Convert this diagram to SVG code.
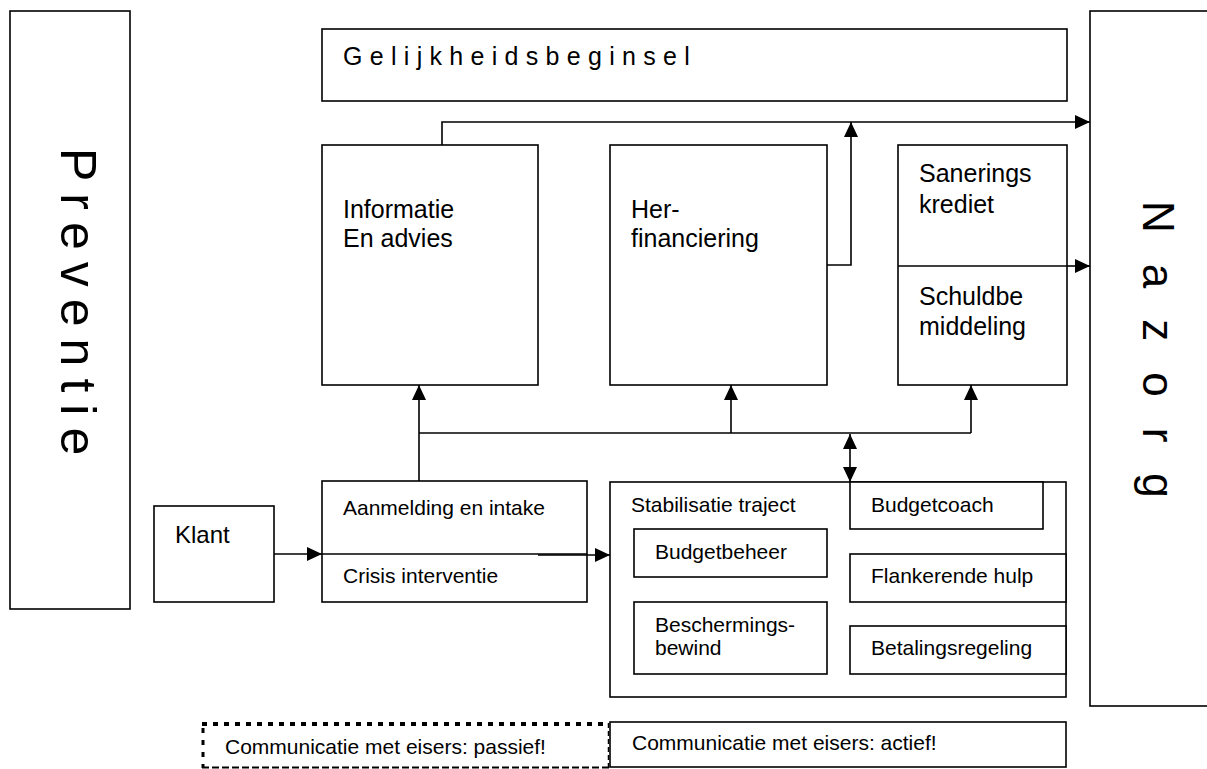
<svg xmlns="http://www.w3.org/2000/svg" width="1207" height="769" viewBox="0 0 1207 769">
<style>
  .box{fill:#fff;stroke:#000;stroke-width:1.6}
  .ln{fill:none;stroke:#000;stroke-width:1.6}
  text{font-family:"Liberation Sans",Arial,sans-serif;fill:#000}
  .big{font-size:25px}
  .sm{font-size:21px}
</style>
<defs>
  <marker id="ah" markerWidth="15" markerHeight="14" refX="15" refY="7" orient="auto-start-reverse" markerUnits="userSpaceOnUse">
    <path d="M0,0 L15,7 L0,14 Z" fill="#000"/>
  </marker>
</defs>
<rect width="1207" height="769" fill="#fff"/>

<g id="preventie">
  <rect class="box" x="10" y="11" width="120" height="598"/>
  <text transform="translate(61,148) rotate(90)" font-size="50" letter-spacing="12">Preventie</text>
</g>
<g id="gelijkheidsbeginsel">
  <rect class="box" x="322" y="29" width="745" height="72"/>
  <text x="343" y="65" font-size="25" letter-spacing="7.3">Gelijkheidsbeginsel</text>
</g>
<g id="nazorg">
  <rect class="box" x="1090" y="11" width="125" height="695"/>
  <text transform="translate(1143,201) rotate(90)" font-size="44" letter-spacing="31">Nazorg</text>
</g>
<g id="informatie">
  <rect class="box" x="322" y="145" width="216" height="240"/>
  <text class="big" x="343" y="218">Informatie</text>
  <text class="big" x="343" y="247">En advies</text>
</g>
<g id="herfinanciering">
  <rect class="box" x="610" y="145" width="217" height="240"/>
  <text class="big" x="631" y="218">Her-</text>
  <text class="big" x="631" y="247">financiering</text>
</g>
<g id="sanering">
  <rect class="box" x="898" y="145" width="169" height="240"/>
  <line class="ln" x1="898" y1="266" x2="1067" y2="266"/>
  <text class="big" x="919" y="182">Sanerings</text>
  <text class="big" x="919" y="213">krediet</text>
  <text class="big" x="919" y="305">Schuldbe</text>
  <text class="big" x="919" y="335">middeling</text>
</g>
<g id="klant">
  <rect class="box" x="154" y="506" width="120" height="96"/>
  <text x="175" y="543" font-size="24">Klant</text>
</g>
<g id="aanmelding">
  <rect class="box" x="322" y="481" width="265" height="121"/>
  <line class="ln" x1="322" y1="554" x2="587" y2="554"/>
  <text class="sm" x="343" y="515">Aanmelding en intake</text>
  <text class="sm" x="343" y="583">Crisis interventie</text>
</g>
<g id="stabilisatie">
  <rect class="box" x="610" y="482" width="456" height="215"/>
  <text class="sm" x="631" y="512">Stabilisatie traject</text>
</g>
<g id="budgetcoach">
  <rect class="box" x="850" y="482" width="193" height="47"/>
  <text class="sm" x="871" y="512">Budgetcoach</text>
</g>
<g id="budgetbeheer">
  <rect class="box" x="634" y="529" width="193" height="48"/>
  <text class="sm" x="655" y="559">Budgetbeheer</text>
</g>
<g id="flankerende">
  <rect class="box" x="850" y="554" width="216" height="48"/>
  <text class="sm" x="871" y="583">Flankerende hulp</text>
</g>
<g id="beschermingsbewind">
  <rect class="box" x="634" y="602" width="193" height="72"/>
  <text class="sm" x="655" y="632">Beschermings-</text>
  <text class="sm" x="655" y="655">bewind</text>
</g>
<g id="betalingsregeling">
  <rect class="box" x="850" y="626" width="216" height="48"/>
  <text class="sm" x="871" y="655">Betalingsregeling</text>
</g>
<g id="communicatie-passief">
  <rect x="202" y="723" width="407" height="45" fill="#fff"/>
  <line x1="202" y1="724" x2="609" y2="724" stroke="#000" stroke-width="4" stroke-dasharray="5 6"/>
  <line x1="203" y1="728" x2="203" y2="768" stroke="#000" stroke-width="3" stroke-dasharray="5 7"/>
  <line x1="202" y1="767.5" x2="609" y2="767.5" stroke="#000" stroke-width="2" stroke-dasharray="7 3"/>
  <line x1="608.5" y1="723" x2="608.5" y2="768" stroke="#000" stroke-width="1.5" stroke-dasharray="5 3"/>
  <text class="sm" x="225" y="754">Communicatie met eisers: passief!</text>
</g>
<g id="communicatie-actief">
  <rect class="box" x="610" y="722" width="456" height="45"/>
  <text class="sm" x="632" y="750">Communicatie met eisers: actief!</text>
</g>

<g id="connectors">
  <path class="ln" d="M442,145 V122 H1090" marker-end="url(#ah)"/>
  <path class="ln" d="M827,265 H851 V122" marker-end="url(#ah)"/>
  <path class="ln" d="M1067,266 H1090" marker-end="url(#ah)"/>
  <path class="ln" d="M419,433 H971"/>
  <path class="ln" d="M419,481 V385" marker-end="url(#ah)"/>
  <path class="ln" d="M731,433 V385" marker-end="url(#ah)"/>
  <path class="ln" d="M971,433 V385" marker-end="url(#ah)"/>
  <path class="ln" d="M850,434 V482" marker-start="url(#ah)" marker-end="url(#ah)"/>
  <path class="ln" d="M274,554 H322" marker-end="url(#ah)"/>
  <path class="ln" d="M538,555 H610" marker-end="url(#ah)"/>
</g>
</svg>
